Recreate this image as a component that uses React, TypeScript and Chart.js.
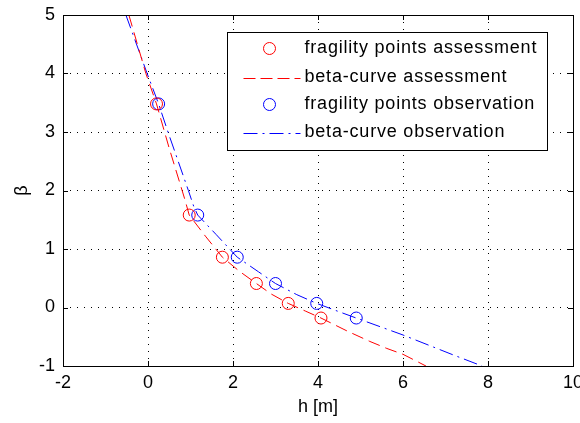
import React, { useEffect, useRef } from "react";
import { Chart, registerables } from "chart.js";

Chart.register(...registerables);

// Fragility points (beta levels shared by both series)
const pointBeta = [3.48, 1.58, 0.86, 0.41, 0.07, -0.18];
const assessH = [0.2, 0.97, 1.75, 2.55, 3.3, 4.07];
const observH = [0.25, 1.17, 2.1, 3.0, 3.97, 4.9];

// Beta-curves
const assessCurveH = [-0.45, -0.05, 0.2, 0.5, 0.87, 0.97, 1.35, 1.75, 2.15, 2.55, 2.9, 3.3, 3.7, 4.07, 4.68, 5.22, 5.62, 6.0, 6.54];
const assessCurveB = [5, 4, 3.48, 2.72, 1.84, 1.58, 1.22, 0.86, 0.62, 0.41, 0.23, 0.07, -0.06, -0.18, -0.4, -0.58, -0.7, -0.8, -1];
const observCurveH = [-0.52, -0.02, 0.25, 0.47, 0.95, 1.08, 1.17, 1.6, 2.1, 2.6, 3.0, 3.5, 3.97, 4.45, 4.9, 6.0, 7.18, 7.86];
const observCurveB = [5, 4, 3.48, 3, 2, 1.72, 1.58, 1.25, 0.86, 0.61, 0.41, 0.22, 0.07, -0.06, -0.18, -0.47, -0.81, -1];

const xTicks = [-2, 0, 2, 4, 6, 8, 10];
const yTicks = [-1, 0, 1, 2, 3, 4, 5];

const legendLabels = [
  "fragility points assessment",
  "beta-curve assessment",
  "fragility points observation",
  "beta-curve observation",
];

const RED = "#ff0000";
const BLUE = "#0000ff";
const FONT = "'Liberation Sans', Arial, sans-serif";

const zip = (xs: number[], ys: number[]) => xs.map((x, i) => ({ x, y: ys[i] }));

const framePlugin = {
  id: "matlabFrame",
  afterDraw(chart: any) {
    const { ctx, chartArea: a, scales } = chart;
    ctx.save();
    ctx.strokeStyle = "#000";
    ctx.lineWidth = 1;
    ctx.setLineDash([]);
    ctx.strokeRect(Math.round(a.left) + 0.5, Math.round(a.top) + 0.5, Math.round(a.right - a.left), Math.round(a.bottom - a.top));
    ctx.beginPath();
    xTicks.forEach((v) => {
      const px = Math.round(scales.x.getPixelForValue(v)) + 0.5;
      ctx.moveTo(px, a.bottom);
      ctx.lineTo(px, a.bottom - 5);
      ctx.moveTo(px, a.top);
      ctx.lineTo(px, a.top + 5);
    });
    yTicks.forEach((v) => {
      const py = Math.round(scales.y.getPixelForValue(v)) + 0.5;
      ctx.moveTo(a.left, py);
      ctx.lineTo(a.left + 5, py);
      ctx.moveTo(a.right, py);
      ctx.lineTo(a.right - 5, py);
    });
    ctx.stroke();

    // legend box
    const bx = Math.round(a.left + 164) + 0.5;
    const by = Math.round(a.top + 17) + 0.5;
    const bw = 320;
    const bh = 118;
    ctx.fillStyle = "#fff";
    ctx.fillRect(bx, by, bw, bh);
    ctx.strokeStyle = "#000";
    ctx.strokeRect(bx, by, bw, bh);

    const rows = [16, 45, 72, 100];
    const styles = [
      { color: RED, marker: true, dash: [] as number[] },
      { color: RED, marker: false, dash: [12, 5] },
      { color: BLUE, marker: true, dash: [] as number[] },
      { color: BLUE, marker: false, dash: [14, 5, 2, 5] },
    ];
    rows.forEach((ry, i) => {
      const y = by + ry;
      const s = styles[i];
      ctx.strokeStyle = s.color;
      ctx.lineWidth = 1;
      if (s.marker) {
        ctx.setLineDash([]);
        ctx.beginPath();
        ctx.arc(bx + 42, y, 6, 0, Math.PI * 2);
        ctx.stroke();
      } else {
        ctx.setLineDash(s.dash);
        ctx.beginPath();
        ctx.moveTo(bx + 16, Math.round(y) + 0.5);
        ctx.lineTo(bx + 73, Math.round(y) + 0.5);
        ctx.stroke();
      }
      ctx.setLineDash([]);
      ctx.fillStyle = "#000";
      ctx.font = `18px ${FONT}`;
      try {
        (ctx as any).letterSpacing = "0.8px";
      } catch (e) {}
      ctx.textAlign = "left";
      ctx.textBaseline = "middle";
      ctx.fillText(legendLabels[i], bx + 77, y);
      try {
        (ctx as any).letterSpacing = "0px";
      } catch (e) {}
    });
    ctx.restore();
  },
};

export default function App() {
  const canvasRef = useRef<HTMLCanvasElement | null>(null);

  useEffect(() => {
    if (!canvasRef.current) return;
    const chart = new Chart(canvasRef.current, {
      type: "scatter",
      data: {
        datasets: [
          {
            label: legendLabels[0],
            data: zip(assessH, pointBeta),
            showLine: false,
            pointStyle: "circle",
            pointRadius: 6,
            pointBorderWidth: 1,
            borderColor: RED,
            backgroundColor: "rgba(0,0,0,0)",
          },
          {
            label: legendLabels[1],
            data: zip(assessCurveH, assessCurveB),
            showLine: true,
            pointRadius: 0,
            borderColor: RED,
            borderWidth: 1,
            borderDash: [12, 6],
            backgroundColor: "rgba(0,0,0,0)",
          },
          {
            label: legendLabels[2],
            data: zip(observH, pointBeta),
            showLine: false,
            pointStyle: "circle",
            pointRadius: 6,
            pointBorderWidth: 1,
            borderColor: BLUE,
            backgroundColor: "rgba(0,0,0,0)",
          },
          {
            label: legendLabels[3],
            data: zip(observCurveH, observCurveB),
            showLine: true,
            pointRadius: 0,
            borderColor: BLUE,
            borderWidth: 1,
            borderDash: [14, 5, 2, 5],
            backgroundColor: "rgba(0,0,0,0)",
          },
        ],
      },
      options: {
        animation: false,
        responsive: true,
        maintainAspectRatio: false,
        layout: { padding: { left: 0, right: 7, top: 15, bottom: 0 } },
        plugins: {
          legend: { display: false },
          tooltip: { enabled: false },
        },
        scales: {
          x: {
            type: "linear",
            min: -2,
            max: 10,
            afterBuildTicks: (scale: any) => {
              scale.ticks = xTicks.map((v) => ({ value: v }));
            },
            ticks: {
              color: "#000",
              font: { family: FONT, size: 18 },
              padding: 6,
              maxRotation: 0,
            },
            grid: {
              color: "#000",
              lineWidth: 1,
              drawTicks: false,
            },
            border: { display: false, dash: [1, 6] },
            title: {
              display: true,
              text: "h [m]",
              color: "#000",
              font: { family: FONT, size: 18 },
              padding: { top: 0, bottom: 5 },
            },
            afterFit: (scale: any) => {
              scale.height = 57;
              scale.paddingLeft = 0;
              scale.paddingRight = 0;
            },
          },
          y: {
            type: "linear",
            min: -1,
            max: 5,
            afterBuildTicks: (scale: any) => {
              scale.ticks = yTicks.map((v) => ({ value: v }));
            },
            ticks: {
              color: "#000",
              font: { family: FONT, size: 18 },
              padding: 8,
            },
            grid: {
              color: "#000",
              lineWidth: 1,
              drawTicks: false,
            },
            border: { display: false, dash: [1, 6] },
            title: {
              display: true,
              text: "β",
              color: "#000",
              font: { family: FONT, size: 18 },
              padding: { top: 11, bottom: 0 },
            },
            afterFit: (scale: any) => {
              scale.width = 63;
              scale.paddingTop = 0;
              scale.paddingBottom = 0;
            },
          },
        },
      },
      plugins: [framePlugin],
    } as any);
    return () => chart.destroy();
  }, []);

  return (
    <div style={{ position: "absolute", left: 0, top: 0, width: 580, height: 423, background: "#fff" }}>
      <canvas ref={canvasRef} />
    </div>
  );
}
